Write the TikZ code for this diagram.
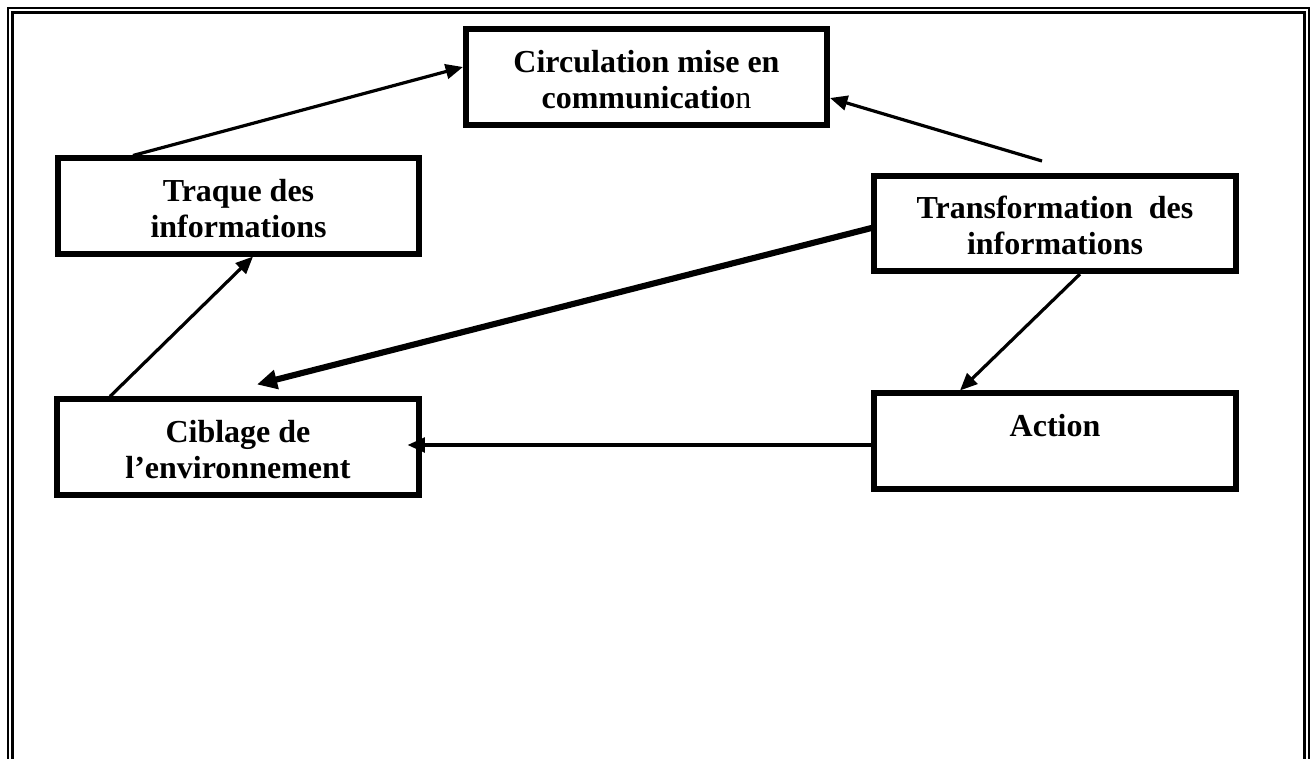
\documentclass[tikz,border=0pt]{standalone}
\usepackage{fontspec}
\setmainfont{Liberation Serif}
\usetikzlibrary{arrows.meta,calc}
% uniform strut so every two-line label sits at the same height
\newcommand\boxstrut{\rule[-1pt]{0pt}{22pt}}
\begin{document}
\begin{tikzpicture}[x=0.75pt,y=-0.75pt,
  stage/.style={draw, line width=4.2pt, minimum width=271.1pt,
    minimum height=71.6pt, inner sep=0pt, align=center,
    font=\fontsize{24}{27}\selectfont\bfseries},
  link/.style={line width=2.4pt, -{Triangle[length=13pt,width=11pt]}},
  heavylink/.style={line width=4.6pt, -{Triangle[length=15pt,width=14pt]}},
  rule/.style={line width=1.7pt}
]
\clip (0,0) rectangle (1316,758);
\fill[white] (0,0) rectangle (1316,758);

% page border (double rule, open at the bottom)
\draw[rule] (8,780) -- (8,8) -- (1309,8) -- (1309,780);
\draw[rule] (12.5,780) -- (12.5,12.5) -- (1304.5,12.5) -- (1304.5,780);

% stages of the cycle
\node[stage] (circ) at (646.5,77)  {\boxstrut Circulation mise en\\\boxstrut communicatio\textmd{n}};
\node[stage] (trq)  at (238.5,206) {\boxstrut Traque des\\\boxstrut informations};
\node[stage] (trf)  at (1055,223.5) {\boxstrut Transformation\ \ des\\\boxstrut informations};
\node[stage] (cib)  at (238,447)   {\boxstrut Ciblage de\\\boxstrut l’environnement};
\node[stage] (act)  at (1055,441)  {\boxstrut Action\\\boxstrut};

% connectors
\coordinate (tfree) at (1042,161);
\draw[link] (133,0 |- trq.north) -- (circ.west |- 0,67);
\draw[link] (tfree) -- (circ.east |- 0,98);
\draw[heavylink] (trf.west |- 0,228) -- ($(cib.north -| 257,0)+(0,-12)$);
\draw[link] (1080,0 |- trf.south) -- (960,0 |- act.north);
\draw[link] (act.west |- 0,445) -- ($(cib.east |- 0,445)+(-14,0)$);
\draw[link] (110,0 |- cib.north) -- (253,0 |- trq.south);
\end{tikzpicture}
\end{document}
